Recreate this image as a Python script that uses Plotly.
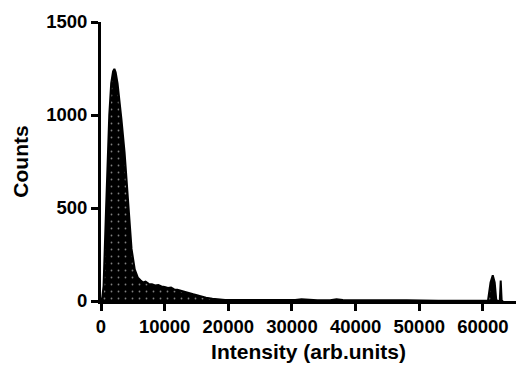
import plotly.graph_objects as go

intensity = [0, 200, 400, 600, 800, 1000, 1300, 1600, 1900, 2100, 2300, 2600, 2900, 3200,
             3700, 4300, 4800, 5300, 5800, 6200, 6600, 7000, 7500, 8000, 8500, 9000, 9500,
             10000, 10500, 11000, 11500, 12000, 12500, 13000, 13500, 14500, 15500, 16500,
             17500, 18500, 19500, 21000, 23000,
             25000, 27000, 29000, 30500, 31500, 32500, 34000, 36000, 37000, 38000, 40000,
             42000, 44000, 46000, 48000, 50000, 53000, 56000, 59000, 60800, 61200, 61550,
             61850, 62100, 62400, 62650, 62800, 62950, 63200]
counts = [0, 20, 80, 250, 500, 700, 1000, 1170, 1235, 1248, 1230, 1170, 1080, 980,
          800, 490, 280, 170, 125, 112, 100, 104, 92, 90, 84, 86, 78,
          76, 70, 72, 62, 60, 54, 50, 46, 36, 26, 18,
          12, 8, 6, 5, 5,
          4, 4, 5, 6, 10, 6, 4, 4, 9, 5, 4,
          3, 3, 4, 4, 2, 2, 1, 1, 2, 100, 138,
          100, 5, 0, 0, 110, 0, 0]

x_ticks = [0, 10000, 20000, 30000, 40000, 50000, 60000]
y_ticks = [0, 500, 1000, 1500]

fig = go.Figure()
fig.add_trace(go.Scatter(
    x=intensity, y=counts, mode="lines",
    line=dict(color="black", width=2),
    fill="tozeroy",
    fillcolor="black",
    fillpattern=dict(shape=".", bgcolor="black", fgcolor="white", size=7, solidity=0.05),
    hoverinfo="skip", showlegend=False,
))

font_family = "Liberation Sans, Arial, sans-serif"
fig.update_layout(
    width=516, height=366,
    margin=dict(l=101, r=0, t=22, b=65),
    plot_bgcolor="white", paper_bgcolor="white",
    font=dict(family=font_family, color="black"),
    xaxis=dict(
        range=[0, 65200], tickvals=x_ticks, ticktext=[str(v) for v in x_ticks],
        showgrid=False, zeroline=False, showline=True, linecolor="black", linewidth=3,
        ticks="outside", ticklen=7, tickwidth=3, tickcolor="black",
        tickfont=dict(size=18.5, family=font_family, weight="bold"),
        title=dict(text="<b>Intensity (arb.units)</b>", font=dict(size=21), standoff=9),
    ),
    yaxis=dict(
        range=[0, 1500], tickvals=y_ticks, ticktext=[str(v) for v in y_ticks],
        showgrid=False, zeroline=False, showline=True, linecolor="black", linewidth=3,
        ticks="outside", ticklen=7, tickwidth=3, tickcolor="black",
        tickfont=dict(size=18.5, family=font_family, weight="bold"),
        title=dict(text="<b>Counts</b>", font=dict(size=21), standoff=12),
    ),
)
fig.write_html("out.html")
